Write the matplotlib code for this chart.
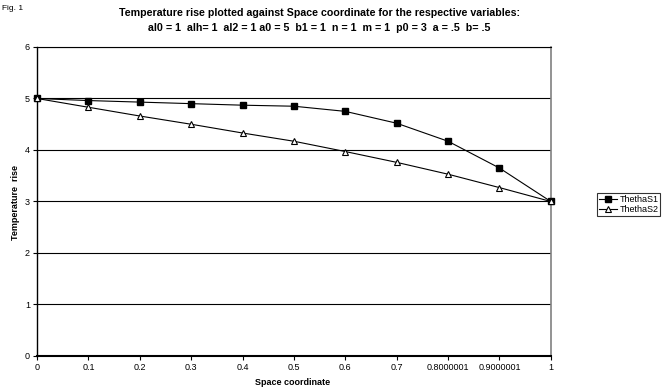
import matplotlib
matplotlib.use("Agg")
import matplotlib.pyplot as plt

plt.rcParams['font.family'] = ['Liberation Sans', 'DejaVu Sans']

# valeurs
x_labels = ["0", "0.1", "0.2", "0.3", "0.4", "0.5", "0.6", "0.7", "0.8000001", "0.9000001", "1"]
thetha_s1 = [5.0, 4.96, 4.93, 4.90, 4.87, 4.85, 4.75, 4.52, 4.17, 3.65, 3.0]
thetha_s2 = [5.0, 4.83, 4.66, 4.50, 4.33, 4.17, 3.97, 3.76, 3.53, 3.27, 3.0]
y_ticks = [0, 1, 2, 3, 4, 5, 6]

fig = plt.figure(figsize=(6.62, 3.9), dpi=100)
ax = fig.add_axes([0.0559, 0.0872, 0.7761, 0.7923])

pos = list(range(len(x_labels)))
ax.plot(pos, thetha_s1, color="black", lw=0.8, marker="s", ms=4,
        mfc="black", mec="black", label="ThethaS1", clip_on=False, zorder=3)
ax.plot(pos, thetha_s2, color="black", lw=0.8, marker="^", ms=4,
        mfc="white", mec="black", mew=0.8, label="ThethaS2", clip_on=False, zorder=3)

ax.set_xlim(0, len(x_labels) - 1)
ax.set_ylim(0, 6)
ax.set_xticks(pos)
ax.set_xticklabels(x_labels)
ax.set_yticks(y_ticks)
ax.tick_params(labelsize=6.5, length=3, width=0.8, direction="out", pad=2)
ax.yaxis.grid(True, color="black", lw=0.8)
ax.set_axisbelow(True)

ax.spines["left"].set_linewidth(1.0)
ax.spines["bottom"].set_linewidth(1.5)
ax.spines["top"].set_linewidth(0.8)
ax.spines["right"].set_color("#808080")
ax.spines["right"].set_linewidth(1.2)

fig.text(0.4426, 0.018, "Space coordinate", ha="center", va="center",
         fontsize=6.5, fontweight="bold")
fig.text(0.024, 0.482, "Temperature  rise", ha="center", va="center",
         rotation=90, fontsize=6.5, fontweight="bold")

fig.text(0.482, 0.967, "Temperature rise plotted against Space coordinate for the respective variables:",
         ha="center", va="center", fontsize=7.7, fontweight="bold")
fig.text(0.482, 0.929, "al0 = 1  alh= 1  al2 = 1 a0 = 5  b1 = 1  n = 1  m = 1  p0 = 3  a = .5  b= .5",
         ha="center", va="center", fontsize=7.7, fontweight="bold")
fig.text(0.003, 0.979, "Fig. 1", ha="left", va="center", fontsize=6)

leg = fig.legend(loc="center left", bbox_to_anchor=(0.902, 0.476), fontsize=6.5,
                 frameon=True, fancybox=False, edgecolor="black", handlelength=2.0,
                 handletextpad=0.3, borderpad=0.2, labelspacing=0.15, borderaxespad=0)
leg.get_frame().set_linewidth(0.8)

fig.savefig("out.png", dpi=100)
